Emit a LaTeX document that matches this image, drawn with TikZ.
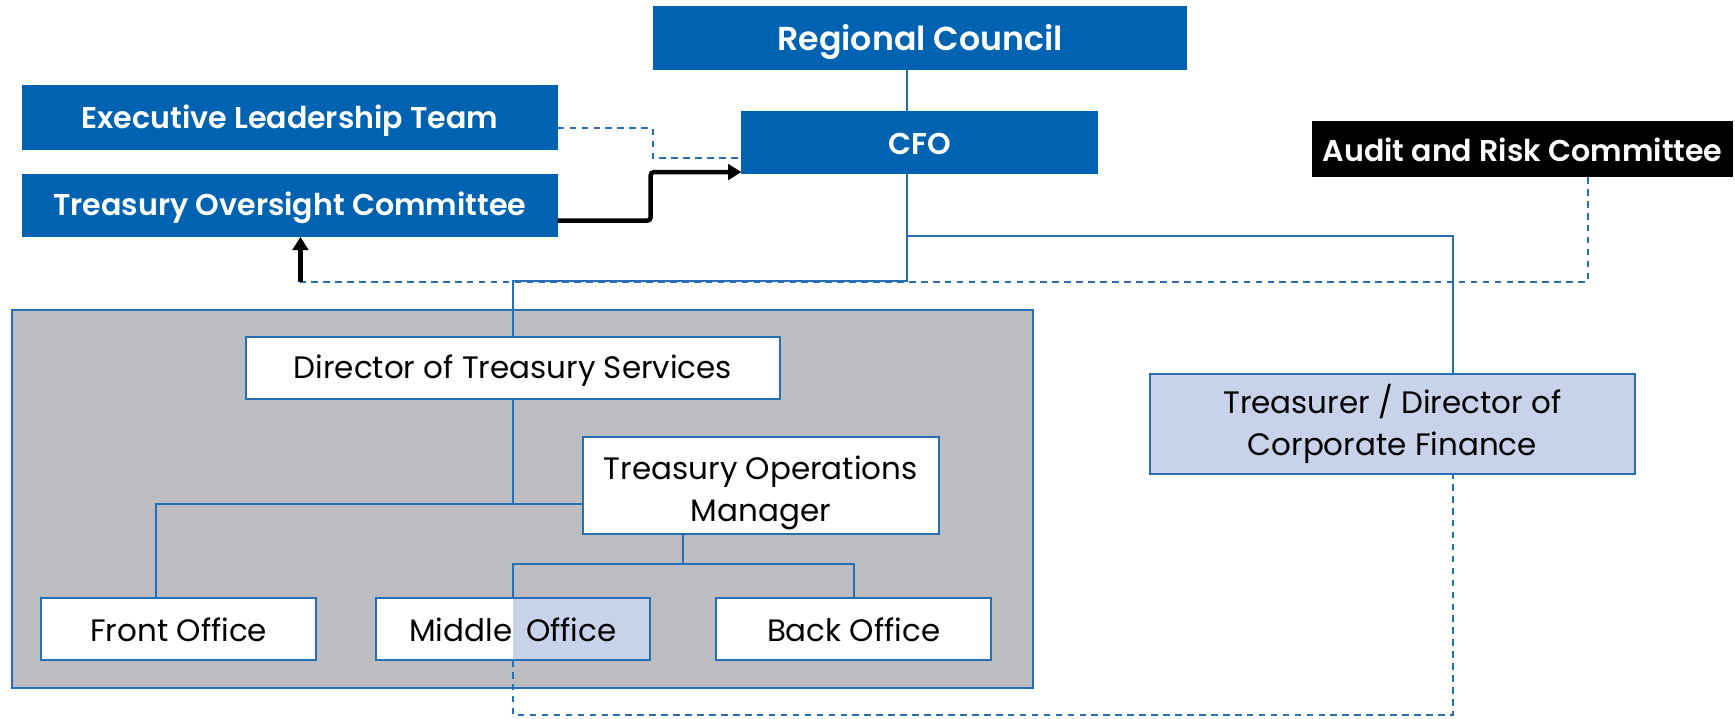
\documentclass[tikz,border=0pt]{standalone}
\usepackage{fontspec}
\setmainfont{Poppins}[BoldFont={Poppins SemiBold}]
\usetikzlibrary{arrows.meta}
\definecolor{cblue}{RGB}{0,99,177}
\definecolor{cline}{RGB}{40,110,180}
\definecolor{lb}{RGB}{200,210,235}
\definecolor{gbg}{RGB}{188,189,192}
\newcommand\lowtxt[2]{\raisebox{-#1}[\height][\depth]{#2}}
\begin{document}
\begin{tikzpicture}[x=0.5pt,y=-0.5pt,
  base/.style={anchor=north west, inner sep=0pt, outer sep=0pt, font=\fontsize{14}{19}\selectfont},
  twoline/.style={align=center},
  bluebox/.style={base, fill=cblue, text=white, font=\fontsize{13.6}{19}\selectfont\bfseries},
  blackbox/.style={base, fill=black, text=white, font=\fontsize{13.6}{19}\selectfont\bfseries},
  wbox/.style={base, fill=white, draw=cline, line width=0.9pt},
  lbbox/.style={base, fill=lb, draw=cline, line width=0.9pt},
  conn/.style={draw=cline, line width=0.9pt},
  dconn/.style={draw=cline, line width=0.9pt, dash pattern=on 3pt off 2.4pt},
  barrow/.style={draw=black, line width=2pt, -{Triangle[length=6pt,width=7pt]}},
]
\useasboundingbox (0,0) rectangle (1568,649);

% group background
\node[base, fill=gbg, draw=cline, line width=0.9pt, minimum width=461.5pt, minimum height=171pt] (grp) at (11,280) {};

% nodes
\node[bluebox, font=\fontsize{15}{19}\selectfont\bfseries, minimum width=241.5pt, minimum height=29pt] (rc) at (590,5) {\lowtxt{2pt}{Regional Council}};
\node[bluebox, minimum width=242pt, minimum height=29.25pt] (elt) at (20,77) {\lowtxt{1.5pt}{Executive Leadership Team}};
\node[bluebox, minimum width=242pt, minimum height=28.5pt] (toc) at (20,157) {\lowtxt{1.2pt}{Treasury Oversight Committee}};
\node[bluebox, minimum width=161pt, minimum height=28.5pt] (cfo) at (670,100) {\lowtxt{0.8pt}{CFO}};
\node[blackbox, minimum width=190pt, minimum height=25.5pt] (arc) at (1186,109) {\lowtxt{0.3pt}{Audit and Risk Committee}};

\node[wbox, minimum width=241.5pt, minimum height=27.75pt] (dts) at (222,305) {\lowtxt{1pt}{Director of Treasury Services}};
\node[wbox, twoline, minimum width=161pt, minimum height=44.2pt] (tom) at (526.5,394.6) {\rule{0pt}{16.9pt}Treasury Operations\\Manager};
\node[wbox, minimum width=124pt, minimum height=27.85pt] (fo) at (37.5,540.7) {\lowtxt{0.4pt}{Front Office}};
\coordinate (msplit) at (463.6,0);
\node[wbox, minimum width=123.5pt, minimum height=27.85pt,
  path picture={\fill[lb] (msplit |- path picture bounding box.north) rectangle (path picture bounding box.south east);}] (mo) at (340,540.7) {\lowtxt{0.4pt}{Middle\hspace{0.45em}Office}};
\node[wbox, minimum width=124pt, minimum height=27.85pt] (bo) at (647.5,540.7) {\lowtxt{0.4pt}{Back Office}};
\node[lbbox, twoline, minimum width=219.3pt, minimum height=45pt] (tr) at (1039,338) {\rule{0pt}{12.4pt}Treasurer / Director of\\Corporate Finance};

% connectors
\coordinate (cx) at (820,0);
\coordinate (tx) at (1313,0);
\draw[conn] (rc.south -| cx) -- (cfo.north -| cx);
\draw[conn] (cfo.south -| cx) -- (cx |- 0,254) -| (dts.north);
\draw[conn] (cx |- 0,213) -| (tr.north -| tx);

\draw[dconn] (elt.east |- 0,116) -- (590,116) -- (590,143) -- (cfo.west |- 0,143);
\draw[barrow, rounded corners=1.5pt] (toc.east |- 0,199.4) -- (588,199.4) -- (588,155.5) -- (cfo.west |- 0,155.5);

\coordinate (aj) at (271.5,254.5);
\draw[dconn] (arc.south -| 1435,0) -- (1435,254.5) -- (aj);
\draw[barrow] (aj) -- (toc.south -| aj);

\draw[conn] (dts.south) -- (dts.south |- 0,455.8) -| (fo.north -| 141,0);
\draw[conn] (dts.south |- 0,455.8) -- (tom.west |- 0,455.8);
\draw[conn] (tom.south -| 617,0) -- (617,510) -| (mo.north -| msplit);
\draw[conn] (617,510) -| (bo.north);

\draw[dconn] (mo.south -| msplit) -- (463.6,646) -| (tr.south -| tx);
\end{tikzpicture}
\end{document}
